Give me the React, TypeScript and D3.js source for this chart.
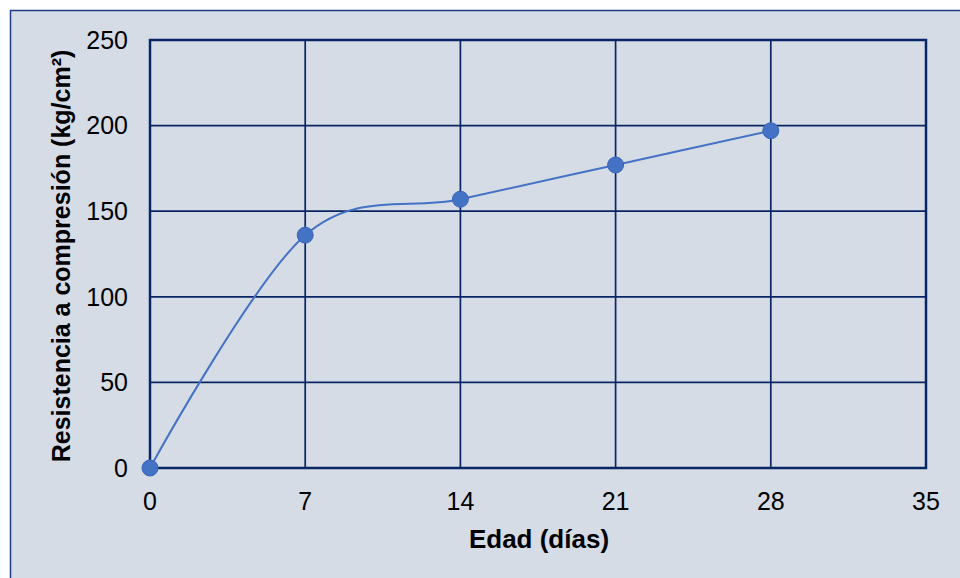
import React from "react";
import * as d3 from "d3";

const days = [0, 7, 14, 21, 28];
const strength = [0, 136, 157, 177, 197];
const xTicks = [0, 7, 14, 21, 28, 35];
const yTicks = [0, 50, 100, 150, 200, 250];
const xTitle = "Edad (días)";
const yTitle = "Resistencia a compresión (kg/cm²)";

export default function App() {
  const W = 960, H = 578;
  const left = 150, right = 926, top = 40, bottom = 468;
  const x = d3.scaleLinear().domain([0, 35]).range([left, right]);
  const y = d3.scaleLinear().domain([0, 250]).range([bottom, top]);
  const pts: [number, number][] = days.map((d, i) => [x(d), y(strength[i])]);
  const line = d3.line().curve(d3.curveCardinal.tension(0))(pts) || "";
  const grid = "#082566";
  const font = "'Liberation Sans', Arial, sans-serif";
  return (
    <svg width={W} height={H} style={{ position: "absolute", left: 0, top: 0 }} fontFamily={font}>
      <rect x={0} y={0} width={W} height={H} fill="#ffffff" />
      <rect x={10.5} y={10.5} width={W + 10} height={H + 10} fill="#d6dce5" stroke="#1f3c88" strokeWidth={1.5} />
      {yTicks.map((t) => (
        <line key={"gy" + t} x1={left} x2={right} y1={y(t)} y2={y(t)} stroke={grid} strokeWidth={1.7} />
      ))}
      {xTicks.map((t) => (
        <line key={"gx" + t} x1={x(t)} x2={x(t)} y1={top} y2={bottom} stroke={grid} strokeWidth={1.7} />
      ))}
      <rect x={left} y={top} width={right - left} height={bottom - top} fill="none" stroke={grid} strokeWidth={2.5} />
      {yTicks.map((t) => (
        <text key={"ty" + t} x={128} y={y(t)} dy="0.35em" textAnchor="end" fontSize={25} fill="#000">{t}</text>
      ))}
      {xTicks.map((t) => (
        <text key={"tx" + t} x={x(t)} y={510} textAnchor="middle" fontSize={25} fill="#000">{t}</text>
      ))}
      <text x={539} y={548} textAnchor="middle" fontSize={26} fontWeight="bold" fill="#000">{xTitle}</text>
      <text transform={`translate(70,256) rotate(-90)`} textAnchor="middle" fontSize={25} fontWeight="bold" fill="#000">{yTitle}</text>
      <path d={line} fill="none" stroke="#4472c4" strokeWidth={2} />
      {pts.map((p, i) => (
        <circle key={i} cx={p[0]} cy={p[1]} r={8} fill="#4472c4" stroke="#3a66b8" strokeWidth={1} />
      ))}
    </svg>
  );
}
